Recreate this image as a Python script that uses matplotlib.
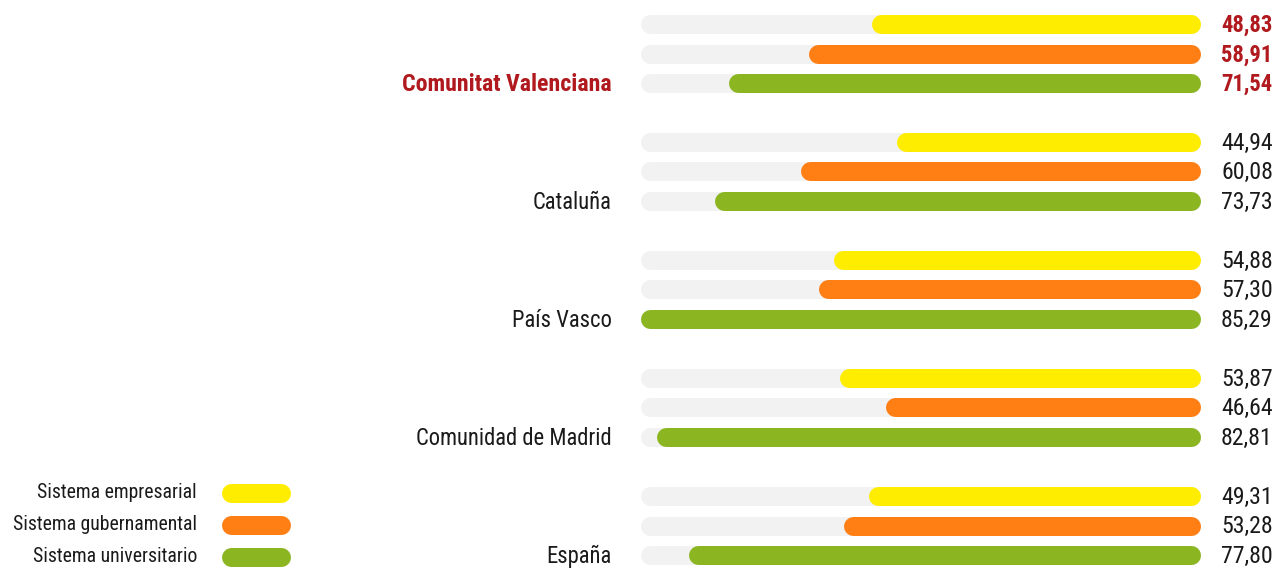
import matplotlib
matplotlib.use("Agg")
import matplotlib.pyplot as plt
from matplotlib import font_manager

# data
regions = ["Comunitat Valenciana", "Cataluña", "País Vasco", "Comunidad de Madrid", "España"]
series = ["Sistema empresarial", "Sistema gubernamental", "Sistema universitario"]
empresarial = [48.83, 44.94, 54.88, 53.87, 49.31]
gubernamental = [58.91, 60.08, 57.30, 46.64, 53.28]
universitario = [71.54, 73.73, 85.29, 82.81, 77.80]
highlight = "Comunitat Valenciana"

colors = ["#FFED00", "#FF7F14", "#8BB622"]
track_color = "#F2F2F2"
red = "#B0191E"
dark = "#1a1a1a"
track_max = 85.29

names = {f.name for f in font_manager.fontManager.ttflist}
if "Roboto Condensed" in names:
    plt.rcParams["font.family"] = ["Roboto Condensed", "DejaVu Sans"]
else:
    plt.rcParams["font.family"] = ["DejaVu Sans"]
    plt.rcParams["font.stretch"] = "condensed"

W, H = 1275, 568
fig = plt.figure(figsize=(W / 100, H / 100), dpi=100)

lw = 19 * 72 / 100  # bar thickness in points
ax = fig.add_axes([650.5 / W, 0, 540 / W, 1])
ax.set_xlim(track_max, 0)
ax.set_ylim(18 + 13 / 29.5, -24 / 29.5)
ax.axis("off")

values = list(zip(empresarial, gubernamental, universitario))
for g, region in enumerate(regions):
    hl = region == highlight
    for r, v in enumerate(values[g]):
        y = g * 4 + r
        ax.plot([track_max, 0], [y, y], color=track_color, lw=lw,
                solid_capstyle="round", clip_on=False)
        ax.plot([v, 0], [y, y], color=colors[r], lw=lw,
                solid_capstyle="round", clip_on=False)
        ax.annotate(f"{v:.2f}".replace(".", ","), xy=(0, y), xycoords="data",
                    xytext=(22, -1), textcoords="offset points",
                    ha="left", va="center", fontsize=16.3 if hl else 17.2,
                    color=red if hl else dark,
                    fontweight="bold" if hl else "normal")
    ax.annotate(region, xy=(track_max, g * 4 + 2), xycoords="data",
                xytext=(-28, -1), textcoords="offset points",
                ha="right", va="center", fontsize=17.2 if hl else 16.3,
                color=red if hl else dark,
                fontweight="bold" if hl else "normal")

# legend
lax = fig.add_axes([0, 0, 1, 1])
lax.set_xlim(0, W)
lax.set_ylim(H, 0)
lax.axis("off")
for i, (name, c) in enumerate(zip(series, colors)):
    y = 493 + 32 * i
    lax.plot([231, 281], [y, y], color=c, lw=lw, solid_capstyle="round")
    lax.text(197, y, name, ha="right", va="center", fontsize=14.2, color=dark)

fig.savefig("out.png", dpi=100)
